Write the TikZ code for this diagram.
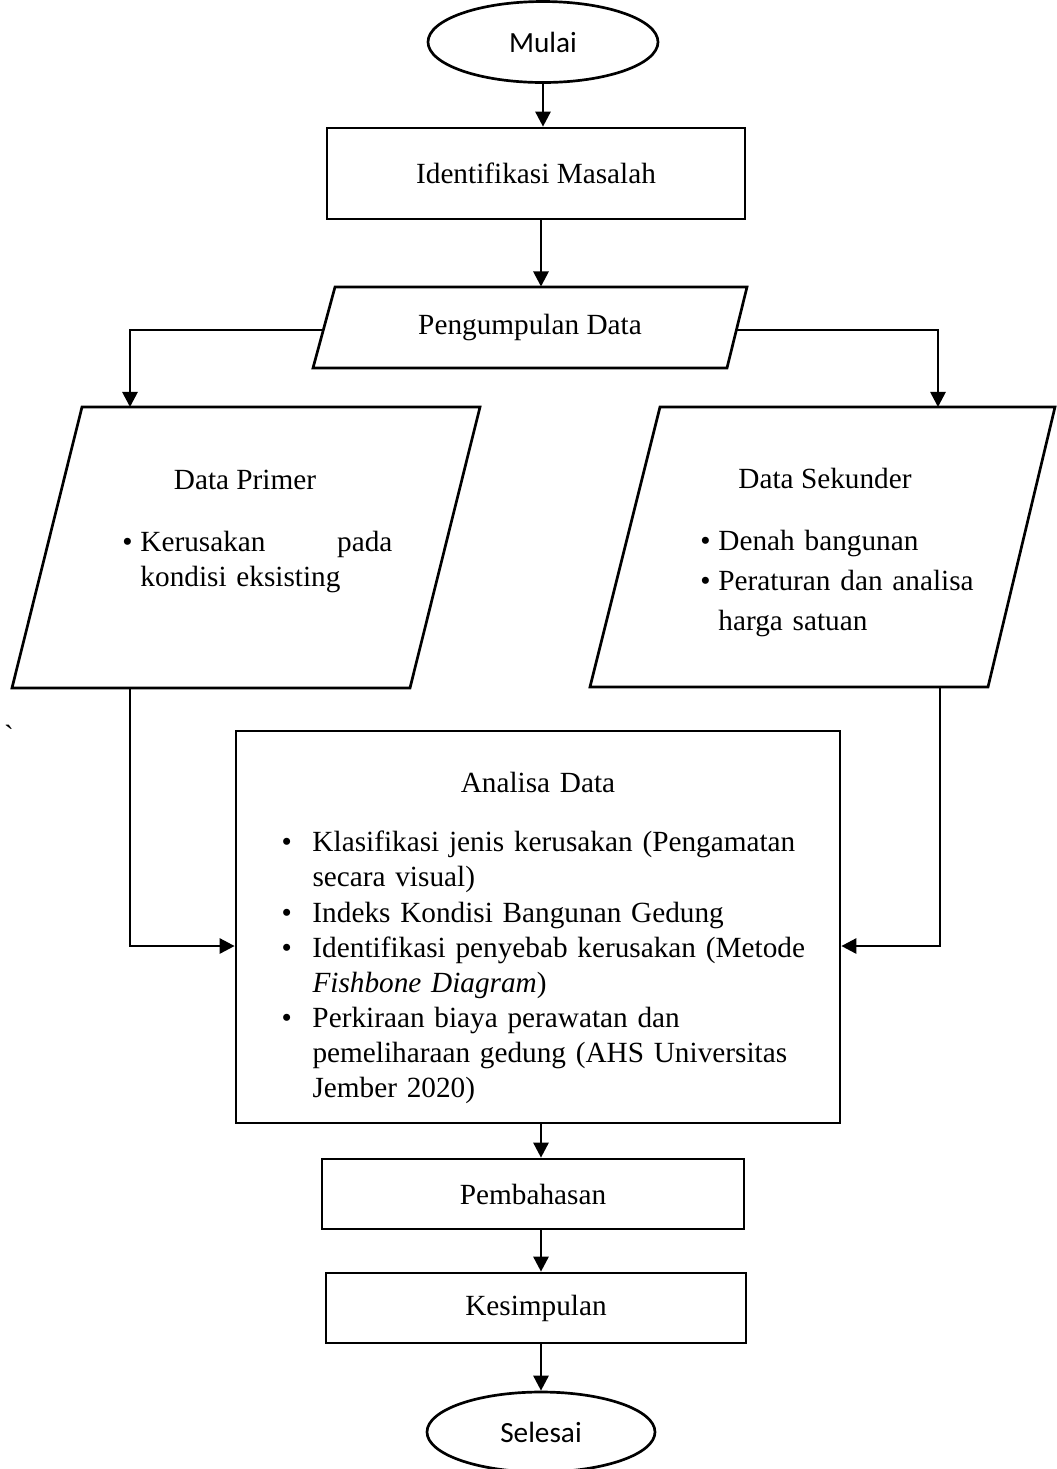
\documentclass[tikz,border=0pt]{standalone}
\usepackage{fontspec}
\setmainfont{Liberation Serif}
\newfontfamily\calibri{Carlito}
\usetikzlibrary{shapes.geometric, arrows.meta, positioning, calc}

\newlength{\px}
\setlength{\px}{0.41pt}
\newcommand{\butir}[1]{\par\noindent\makebox[#1][l]{\textbullet}\ignorespaces}
\newcommand{\lanjut}[1]{\par\noindent\hspace*{#1}\ignorespaces}

\begin{document}
\begin{tikzpicture}[x=0.41pt, y=-0.41pt,
    garis/.style={line width=1.1pt},
    panah/.style={garis, -{Triangle[width=6.2pt,length=6.2pt]}},
    teks/.style={inner sep=0pt, font=\fontsize{12}{14.4}\selectfont, align=center},
    kotak/.style={draw, garis, rectangle, teks},
    oval/.style={draw, garis, ellipse, inner sep=0pt, font=\calibri\fontsize{12}{14.4}\selectfont}]
    \fill[white] (0,0) rectangle (1056,1469);
    \useasboundingbox (0,0) rectangle (1056,1469);

    % mulai
    \node[oval, minimum width=230\px, minimum height=81\px] (mulai) at (543,42) {Mulai};
    \node[kotak, minimum width=418\px, minimum height=91\px] (identifikasi) at (536,173.5) {Identifikasi Masalah};

    % pengumpulan data
    \draw[garis] (335,287) -- (747,287) -- (727,368) -- (313,368) -- cycle;
    \node[teks, minimum height=81\px] (pengumpulan) at (530,327.5) {Pengumpulan Data};

    % data primer
    \draw[garis] (82,407) -- (480,407) -- (410,688) -- (12,688) -- cycle;
    \node[teks] (primer) at (245,480) {Data Primer};
    \node[teks, anchor=west, text width=270\px, align=left] (primerisi) at (122,555)
        {\butir{18\px}Kerusakan\hfill pada\lanjut{18\px}kondisi eksisting\par};

    % data sekunder
    \draw[garis] (660,407) -- (1055,407) -- (988,687) -- (590,687) -- cycle;
    \node[teks] (sekunder) at (825,478) {Data Sekunder};
    \node[teks, anchor=west, text width=290\px, align=left, font=\fontsize{12}{16.4}\selectfont] (sekunderisi) at (700,574)
        {\butir{18\px}Denah bangunan\butir{18\px}Peraturan dan analisa\lanjut{18\px}harga satuan\par};

    \node[teks] (tanda) at (9,735) {\textasciigrave};

    % analisa data
    \node[kotak, minimum width=604\px, minimum height=392\px, text width=561\px, align=left] (analisa) at (538,927)
        {\vspace*{2.9pt}\par\noindent\makebox[\linewidth]{Analisa Data}\par\vspace{10pt}\leftskip=24\px
        \butir{31\px}Klasifikasi jenis kerusakan (Pengamatan\lanjut{31\px}secara visual)
        \butir{31\px}Indeks Kondisi Bangunan Gedung
        \butir{31\px}Identifikasi penyebab kerusakan (Metode\lanjut{31\px}\textit{Fishbone Diagram})
        \butir{31\px}Perkiraan biaya perawatan dan\lanjut{31\px}pemeliharaan gedung (AHS Universitas\lanjut{31\px}Jember 2020)\par};

    \node[kotak, minimum width=422\px, minimum height=70\px] (pembahasan) at (533,1194) {Pembahasan};
    \node[kotak, minimum width=420\px, minimum height=70\px] (kesimpulan) at (536,1308) {Kesimpulan};
    \node[oval, minimum width=228\px, minimum height=80\px] (selesai) at (541,1432) {Selesai};

    % titik belok
    \coordinate (tengah) at (541,0);
    \coordinate (kirikumpul) at (323,330);
    \coordinate (kanankumpul) at (737,330);
    \coordinate (primeratas) at (130,407);
    \coordinate (sekunderatas) at (938,407);
    \coordinate (primerbawah) at (130,688);
    \coordinate (sekunderbawah) at (940,687);
    \coordinate (belokkiri) at (130,946);
    \coordinate (belokkanan) at (940,946);

    \draw[panah] (mulai) -- (identifikasi.north -| mulai);
    \draw[panah] (identifikasi.south -| tengah) -- (pengumpulan.north -| tengah);
    \draw[panah] (kirikumpul) -| (primeratas);
    \draw[panah] (kanankumpul) -| (sekunderatas);
    \draw[panah] (primerbawah) -- (belokkiri) -- (belokkiri -| analisa.west);
    \draw[panah] (sekunderbawah) -- (belokkanan) -- (belokkanan -| analisa.east);
    \draw[panah] (analisa.south -| tengah) -- (pembahasan.north -| tengah);
    \draw[panah] (pembahasan.south -| tengah) -- (kesimpulan.north -| tengah);
    \draw[panah] (kesimpulan.south -| tengah) -- (selesai.north -| tengah);
\end{tikzpicture}
\end{document}
